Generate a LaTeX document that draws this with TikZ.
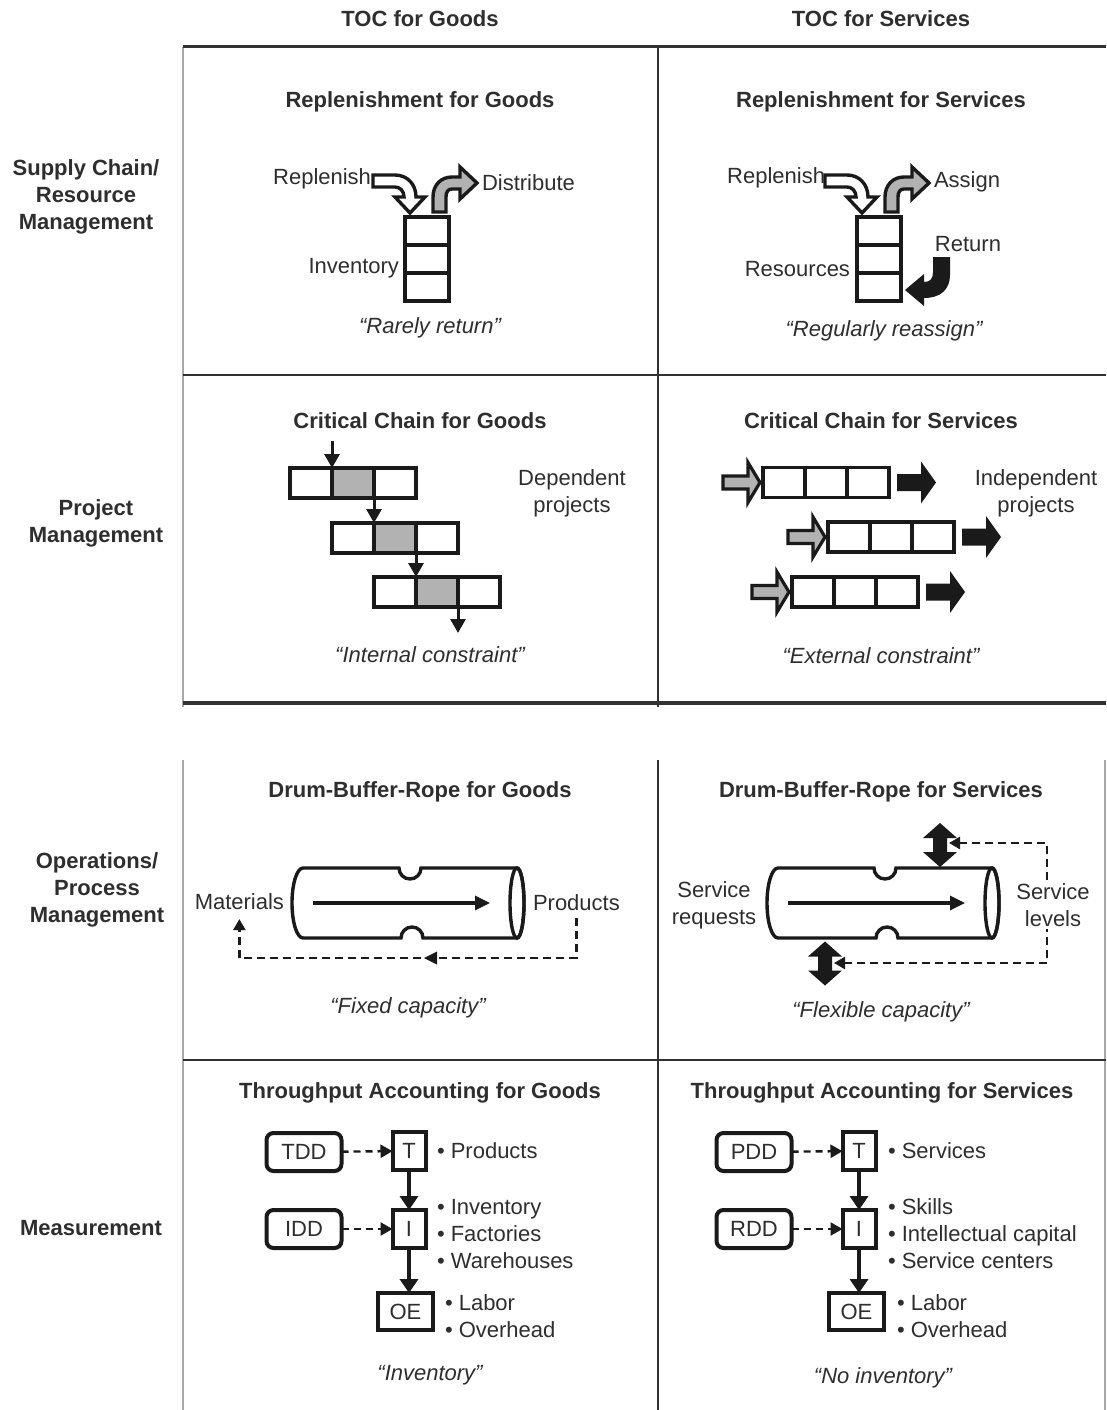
\documentclass[tikz,border=0pt]{standalone}
\usepackage{fontspec}
\setmainfont{Liberation Sans}
\usetikzlibrary{arrows.meta}
\definecolor{ink}{HTML}{1A1A1A}
\definecolor{txt}{HTML}{2E2E2E}
\definecolor{shade}{HTML}{B2B2B2}
\definecolor{faint}{HTML}{A8A8A8}
\begin{document}
\begin{tikzpicture}[x=1pt,y=-1pt,
  lbl/.style={font=\fontsize{22}{27}\selectfont,text=txt,inner sep=0pt,outer sep=0pt,align=center},
  ttl/.style={lbl,font=\fontsize{22}{27}\selectfont\bfseries},
  qte/.style={lbl,font=\fontsize{22}{27}\selectfont\itshape},
  rule/.style={draw=ink!90,line width=3pt},
  faintrule/.style={draw=faint,line width=2pt},
  icon/.style={draw=ink,line width=3.7pt,line join=miter,miter limit=6},
  cell/.style={icon,minimum width=42pt,minimum height=30pt,inner sep=0pt,outer sep=0pt,fill=white},
  flow/.style={draw=ink,line width=3pt,-{Triangle[width=15pt,length=14pt]}},
  dashline/.style={draw=ink,line width=2.6pt,dash pattern=on 8pt off 5pt},
  tabox/.style={lbl,draw=ink,line width=4pt,minimum height=38pt},
  driver/.style={tabox,rounded corners=7pt,minimum width=75pt},
  acct/.style={tabox,minimum width=33pt},
  push/.style={draw=ink,line width=4pt,-{Triangle[width=18pt,length=14pt]}},
  lead/.style={draw=ink,line width=2.4pt,dash pattern=on 7pt off 5pt,-{Triangle[width=13pt,length=12pt]}},
  % buffer stack with three slots
  stack/.pic={\draw[icon,fill=white] (0,0) rectangle (44,84);
              \draw[icon] (0,28) -- (44,28) (0,56) -- (44,56);},
  % incoming replenishment arrow (white)
  refill/.pic={\draw[icon,line width=3.4pt,fill=white] (-32,-42) -- (-10,-42)
      .. controls (2,-42) and (11,-33) .. (11,-20) -- (20,-20) -- (5,-4) -- (-10,-20) -- (-1,-20)
      .. controls (-1,-26) and (-5,-30) .. (-10,-30) -- (-32,-30) -- cycle;},
  % outgoing arrow (grey)
  issue/.pic={\draw[icon,line width=3.4pt,fill=shade] (28,-5) -- (28,-20)
      .. controls (28,-32) and (36,-40) .. (47,-40) -- (55,-40) -- (55,-50) -- (72,-34) -- (55,-18) -- (55,-28) -- (47,-28)
      .. controls (43,-28) and (41,-25) .. (41,-20) -- (41,-5) -- cycle;},
  % project start / finish arrows
  feed/.pic={\draw[icon,line width=3.2pt,fill=shade] (-40,-6.5) -- (-15,-6.5) -- (-15,-20) -- (-3,0) -- (-15,20) -- (-15,6.5) -- (-40,6.5) -- cycle;},
  release/.pic={\fill[ink] (8,-8.5) -- (32,-8.5) -- (32,-21) -- (47,0) -- (32,21) -- (32,8.5) -- (8,8.5) -- cycle;},
  % capacity adjustment (double-headed) arrow
  tune/.pic={\fill[ink] (0,-22) -- (17,-7) -- (7,-7) -- (7,7) -- (17,7) -- (0,22) -- (-17,7) -- (-7,7) -- (-7,-7) -- (-17,-7) -- cycle;},
  % drum: pipe with constriction
  drum/.pic={\draw[icon,line width=3.4pt,fill=white] (11,-35) -- (107,-35) arc[start angle=180,end angle=0,radius=11]
      -- (225,-35) arc[start angle=-90,end angle=90,x radius=7,y radius=35]
      -- (131,35) arc[start angle=0,end angle=-180,radius=11]
      -- (11,35) arc[start angle=90,end angle=270,x radius=11,y radius=35] -- cycle;
    \draw[icon,line width=3.4pt] (225,0) ellipse[x radius=7,y radius=35];
    \draw[icon,line width=3.2pt,-{Triangle[width=14pt,length=15pt]}] (21,0) -- (198,0);}
]
\useasboundingbox (0,0) rectangle (1106,1410);
\fill[white] (0,0) rectangle (1106,1410);

% ---------- grid ----------
\draw[faintrule] (183,47) -- (183,707) (183,760) -- (183,1410) (1105,760) -- (1105,1410);
\draw[rule] (183,47) -- (1106,47);
\draw[rule,line width=2.4pt] (658,47) -- (658,707) (658,760) -- (658,1410);
\draw[rule,line width=2.6pt] (183,375) -- (1106,375);
\draw[rule,line width=3.4pt] (183,703) -- (1106,703);
\draw[rule,line width=2.6pt] (183,1060) -- (1106,1060);

% ---------- headers ----------
\node[ttl] (hgoods) at (420,19) {TOC for Goods};
\node[ttl] (hserv) at (881,19) {TOC for Services};
\node[ttl] (rsupply) at (86,197) {Supply Chain/\\Resource\\Management};
\node[ttl] (rproject) at (96,523) {Project\\Management};
\node[ttl] (rops) at (97,890) {Operations/\\Process\\Management};
\node[ttl] (rmeas) at (91,1228) {Measurement};

% ---------- replenishment ----------
\node[ttl] (t11) at (420,102) {Replenishment for Goods};
\pic at (405,217) {stack};
\pic at (405,217) {refill};
\pic at (405,217) {issue};
\node[lbl,anchor=east] (grep) at (371,179) {Replenish};
\node[lbl,anchor=west] (gdist) at (482,183) {Distribute};
\node[lbl,anchor=east] (ginv) at (399,268) {Inventory};
\node[qte] (q11) at (430,328) {“Rarely return”};

\node[ttl] (t12) at (881,102) {Replenishment for Services};
\pic at (857,217) {stack};
\pic at (857,217) {refill};
\pic at (857,217) {issue};
\fill[ink] (933,257) -- (950,257) -- (950,275) .. controls (950,290) and (940,298) .. (924,298)
  -- (924,306) -- (905,290) -- (924,274) -- (924,282) .. controls (930,282) and (933,279) .. (933,272) -- cycle;
\node[lbl,anchor=east] (srep) at (825,178) {Replenish};
\node[lbl,anchor=west] (sassign) at (934,182) {Assign};
\node[lbl] (sret) at (968,244) {Return};
\node[lbl,anchor=east] (sres) at (850,269) {Resources};
\node[qte] (q12) at (884,331) {“Regularly reassign”};

% ---------- critical chain ----------
\node[ttl] (t21) at (420,421) {Critical Chain for Goods};
\node[cell] (g1a) at (311,483) {};
\node[cell,fill=shade] (g1b) at (353,483) {};
\node[cell] (g1c) at (395,483) {};
\node[cell] (g2a) at (353,538) {};
\node[cell,fill=shade] (g2b) at (395,538) {};
\node[cell] (g2c) at (437,538) {};
\node[cell] (g3a) at (395,592) {};
\node[cell,fill=shade] (g3b) at (437,592) {};
\node[cell] (g3c) at (479,592) {};
\coordinate (gin) at (332,441);
\coordinate (gout) at (458,633);
\draw[flow] (gin) -- (g1b.north west);
\draw[flow] (g1b.south east) -- (g2b.north west);
\draw[flow] (g2b.south east) -- (g3b.north west);
\draw[flow] (g3b.south east) -- (gout);
\node[lbl] (gdep) at (572,493) {Dependent\\projects};
\node[qte] (q21) at (430,655) {“Internal constraint”};

\node[ttl] (t22) at (881,421) {Critical Chain for Services};
\node[cell] (s1a) at (784,482.5) {};
\node[cell] (s1b) at (826,482.5) {};
\node[cell] (s1c) at (868,482.5) {};
\node[cell] (s2a) at (849,537) {};
\node[cell] (s2b) at (891,537) {};
\node[cell] (s2c) at (933,537) {};
\node[cell] (s3a) at (813,592) {};
\node[cell] (s3b) at (855,592) {};
\node[cell] (s3c) at (897,592) {};
\pic at (s1a.west) {feed};
\pic at (s2a.west) {feed};
\pic at (s3a.west) {feed};
\pic at (s1c.east) {release};
\pic at (s2c.east) {release};
\pic at (s3c.east) {release};
\node[lbl] (sind) at (1036,493) {Independent\\projects};
\node[qte] (q22) at (881,656) {“External constraint”};

% ---------- drum-buffer-rope ----------
\node[ttl] (t31) at (420,792) {Drum-Buffer-Rope for Goods};
\pic at (292,903) {drum};
\node[lbl,anchor=east] (gmat) at (284,902) {Materials};
\node[lbl,anchor=west] (gprod) at (533,903) {Products};
\coordinate (gloop) at (0,958);
\draw[dashline,-{Triangle[width=12pt,length=11pt]}] ([yshift=-7pt]gprod.south) -- (gprod.south |- gloop)
  -- (gmat.south |- gloop) -- ([yshift=-9pt]gmat.south);
\fill[ink] (424,958) -- (437,951.5) -- (437,964.5) -- cycle;
\node[qte] (q31) at (408,1008) {“Fixed capacity”};

\node[ttl] (t32) at (881,792) {Drum-Buffer-Rope for Services};
\pic at (767,903) {drum};
\pic at (940,845) {tune};
\pic at (825,963.5) {tune};
\coordinate (stop) at (949,843);
\coordinate (sbot) at (834,963);
\coordinate (scorner) at (1047,843);
\coordinate (scorner2) at (1047,963);
\draw[dashline,{Triangle[width=12pt,length=11pt]}-{Triangle[width=12pt,length=11pt]}] (stop) -- (scorner) -- (scorner2) -- (sbot);
\node[lbl] (sreq) at (714,905) {Service\\requests};
\node[lbl,fill=white,inner sep=2pt] (slev) at (1053,905) {Service\\levels};
\node[qte] (q32) at (881,1012) {“Flexible capacity”};

% ---------- throughput accounting ----------
\node[ttl] (t41) at (420,1093) {Throughput Accounting for Goods};
\node[driver] (tdd) at (304,1152) {TDD};
\node[acct] (gt) at (409,1151) {T};
\node[driver] (idd) at (304,1229) {IDD};
\node[acct] (gi) at (409,1229) {I};
\node[acct,minimum width=55pt,minimum height=37pt] (goe) at (405.5,1311.5) {OE};
\draw[lead] (tdd) -- (gt);
\draw[lead] (idd) -- (gi);
\draw[push] (gt) -- (gi);
\draw[push] (gi.south) -- (gi.south |- goe.north);
\node[lbl,anchor=west] (gtl) at (437,1151) {• Products};
\node[lbl,anchor=west,align=left] (gil) at (437,1234) {• Inventory\\• Factories\\• Warehouses};
\node[lbl,anchor=west,align=left] (goel) at (445,1316) {• Labor\\• Overhead};
\node[qte] (q41) at (430,1375) {“Inventory”};

\node[ttl] (t42) at (882,1093) {Throughput Accounting for Services};
\node[driver] (pdd) at (754,1152) {PDD};
\node[acct] (st) at (859,1151) {T};
\node[driver] (rdd) at (754,1229) {RDD};
\node[acct] (si) at (859,1229) {I};
\node[acct,minimum width=55pt,minimum height=37pt] (soe) at (856.5,1311.5) {OE};
\draw[lead] (pdd) -- (st);
\draw[lead] (rdd) -- (si);
\draw[push] (st) -- (si);
\draw[push] (si.south) -- (si.south |- soe.north);
\node[lbl,anchor=west] (stl) at (888,1151) {• Services};
\node[lbl,anchor=west,align=left] (sil) at (888,1234) {• Skills\\• Intellectual capital\\• Service centers};
\node[lbl,anchor=west,align=left] (soel) at (897,1316) {• Labor\\• Overhead};
\node[qte] (q42) at (883,1378) {“No inventory”};
\end{tikzpicture}
\end{document}
